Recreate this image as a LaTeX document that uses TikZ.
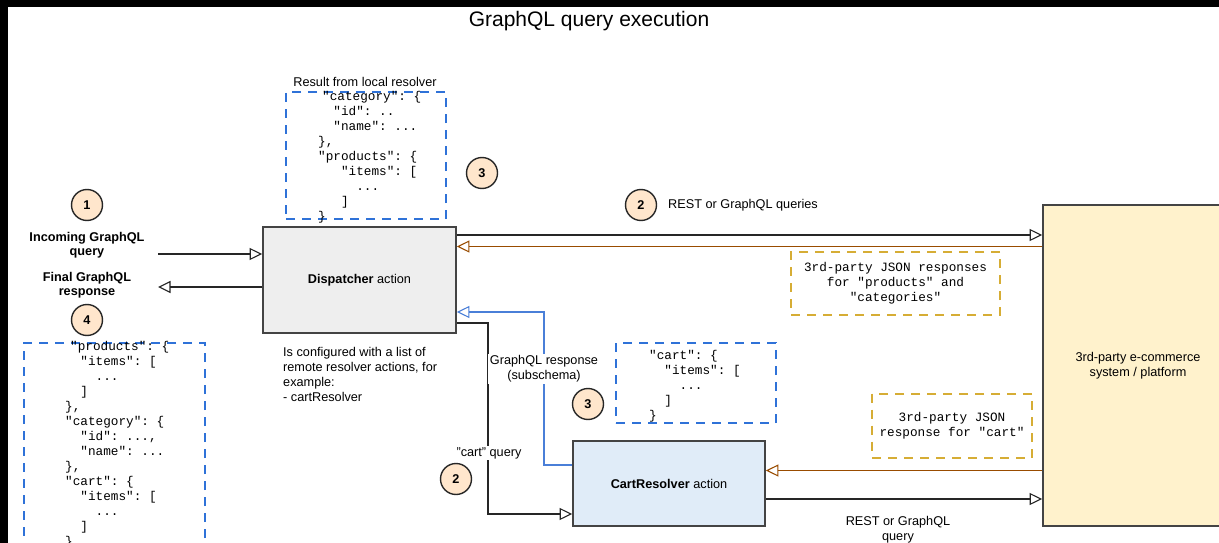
\documentclass[tikz,border=0pt]{standalone}
\usepackage{fontspec}
\setmainfont{Liberation Sans}
\setmonofont{Liberation Mono}
\usetikzlibrary{arrows.meta,calc}
\definecolor{dispfill}{HTML}{EEEEEE}
\definecolor{cartfill}{HTML}{E0ECF8}
\definecolor{ecofill}{HTML}{FFF2CC}
\definecolor{boxline}{HTML}{444444}
\definecolor{brownline}{HTML}{994C00}
\definecolor{blueline}{HTML}{4A7FD8}
\definecolor{bluedash}{HTML}{2F72D8}
\definecolor{golddash}{HTML}{D6AD35}
\definecolor{numfill}{HTML}{FFE6CC}
\tikzset{
  body/.style={font=\fontsize{12.7}{15}\selectfont, inner sep=0pt},
  bodybold/.style={font=\bfseries\fontsize{12.7}{14.5}\selectfont, inner sep=0pt},
  procbox/.style={draw=boxline, line width=1.7pt, inner sep=0pt,
    font=\fontsize{12.7}{15}\selectfont},
  bluebox/.style={draw=bluedash, line width=2pt, dash pattern=on 9pt off 7pt, inner sep=0pt},
  goldbox/.style={draw=golddash, line width=2pt, dash pattern=on 9pt off 7pt, inner sep=0pt,
    align=center, font=\ttfamily\fontsize{12.7}{14.8}\selectfont},
  jsontxt/.style={font=\ttfamily\fontsize{12.7}{15}\selectfont, align=left, inner sep=0pt},
  num/.style={circle, draw=black!85, line width=1.4pt, fill=numfill, minimum size=31pt,
    inner sep=0pt, font=\bfseries\fontsize{12.7}{15}\selectfont},
  tip/.style={-{Triangle[open,length=12.5pt,width=12pt,fill=white]}},
  arr/.style={tip, draw=black!85, line width=1.1pt},
  arrbrown/.style={tip, draw=brownline, line width=1.1pt},
  arrblue/.style={tip, draw=blueline, line width=1.1pt},
}
\begin{document}
\begin{tikzpicture}[x=1pt,y=-1pt]
\useasboundingbox (0,0) rectangle (1219,543);
\fill[white] (0,0) rectangle (1219,543);
\fill[black] (0,0) rectangle (1219,7.5);
\fill[black] (0,0) rectangle (7.5,543);

% title
\node[font=\fontsize{21}{25}\selectfont, inner sep=0pt] (title) at (589,21) {GraphQL query execution};

% main boxes
\node[procbox, fill=dispfill, minimum width=193pt, minimum height=106pt] (disp) at (359.5,280) {\textbf{Dispatcher} action};
\node[procbox, fill=cartfill, minimum width=192pt, minimum height=85pt] (cart) at (669,483.5) {\textbf{CartResolver} action};
\node[procbox, fill=ecofill, minimum width=190pt, minimum height=321pt, align=center] (eco) at (1138,365.5) {3rd-party e-commerce\\system / platform};

% dashed boxes
\node[bluebox, minimum width=160pt, minimum height=127pt] (res1) at (366,155.5) {};
\node[bluebox, minimum width=160pt, minimum height=80pt] (res2) at (696,383) {};
\node[bluebox, minimum width=181pt, minimum height=222pt] (res3) at (114.5,454) {};
\node[goldbox, minimum width=209pt, minimum height=63pt] (tp1) at (895.5,283.5) {3rd-party JSON responses\\for "products" and\\"categories"};
\node[goldbox, minimum width=160pt, minimum height=64pt] (tp2) at (952,425.5) {3rd-party JSON\\response for "cart"};

% JSON texts
\node[jsontxt, anchor=west] (res1txt) at (318,157.5) {\hspace{4pt}"category":~\{\\
~~"id":~..\\
~~"name":~...\\
\},\\
"products":~\{\\
~~~"items":~[\\
~~~~~...\\
~~~]\\
\}};
\node[jsontxt, anchor=west] (res2txt) at (649,386) {"cart":~\{\\
~~"items":~[\\
~~~~...\\
~~]\\
\}};
\node[jsontxt, anchor=west] (res3txt) at (65,445) {\hspace{5pt}"products":~\{\\
~~"items":~[\\
~~~~...\\
~~]\\
\},\\
"category":~\{\\
~~"id":~...,\\
~~"name":~...\\
\},\\
"cart":~\{\\
~~"items":~[\\
~~~~...\\
~~]\\
\}};

% numbered circles
\node[num] (n1) at (87,205) {1};
\node[num] (n4) at (87,320) {4};
\node[num] (n3a) at (482,173) {3};
\node[num] (n2a) at (641,205) {2};
\node[num] (n3b) at (588,404) {3};
\node[num] (n2b) at (456,479) {2};

% labels
\node[bodybold, align=center] (inq) at (87,245) {Incoming GraphQL\\query};
\node[bodybold, align=center] (fin) at (87,285) {Final GraphQL\\response};
\node[body] (reslbl) at (365,82) {Result from local resolver};
\node[body, anchor=west] (restq) at (668,205) {REST or GraphQL queries};
\node[body, align=left, anchor=west] (note) at (283,374.5) {Is configured with a list of\\remote resolver actions, for\\example:\\- cartResolver};
\node[body, align=center] (restq2) at (898,530) {REST or GraphQL\\query};

% connectors
\coordinate (inStart) at (158,254);
\coordinate (outEnd) at (158,287);
\draw[arr] (inStart) -- (disp.west |- inStart);
\draw[arr] (disp.west |- outEnd) -- (outEnd);

\coordinate (yq) at (0,235);
\coordinate (yr) at (0,246.5);
\draw[arr] (disp.east |- yq) -- (eco.west |- yq);
\draw[arrbrown] (eco.west |- yr) -- (disp.east |- yr);

\coordinate (yc) at (0,323);
\coordinate (xc) at (488,0);
\coordinate (ycq) at (0,514);
\draw[arr] (disp.east |- yc) -| (xc |- ycq) -- (cart.west |- ycq);
\node[body, fill=white, inner sep=1.5pt] (cq) at (489,453) {"cart" query};

\coordinate (yb1) at (0,465);
\coordinate (xb) at (544,0);
\coordinate (yb2) at (0,312);
\draw[arrblue] (cart.west |- yb1) -| (xb |- yb2) -- (disp.east |- yb2);
\node[body, fill=white, align=center, inner sep=1.5pt] (gr) at (544,369) {GraphQL response\\(subschema)};

\coordinate (yr2) at (0,470.5);
\coordinate (yq2) at (0,499);
\draw[arrbrown] (eco.west |- yr2) -- (cart.east |- yr2);
\draw[arr] (cart.east |- yq2) -- (eco.west |- yq2);
\end{tikzpicture}
\end{document}
